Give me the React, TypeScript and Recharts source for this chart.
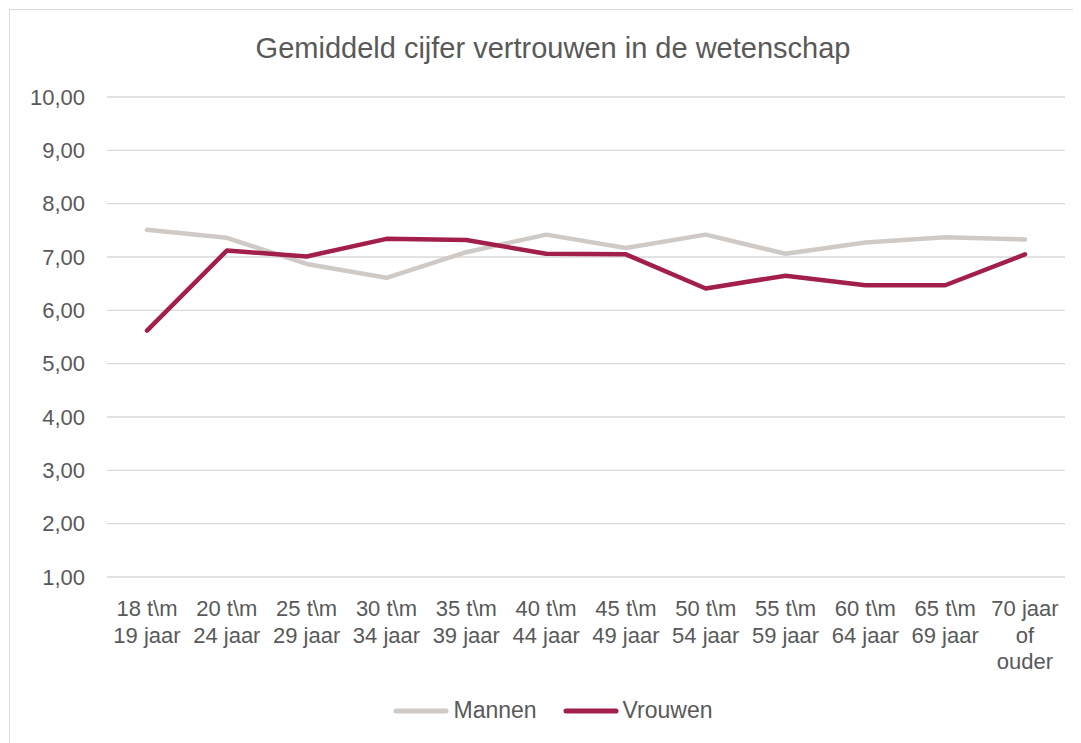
import React from "react";
import {
  CartesianGrid,
  Legend,
  Line,
  LineChart,
  XAxis,
  YAxis,
} from "recharts";

// values
const categories = [
  "18 t\\m 19 jaar",
  "20 t\\m 24 jaar",
  "25 t\\m 29 jaar",
  "30 t\\m 34 jaar",
  "35 t\\m 39 jaar",
  "40 t\\m 44 jaar",
  "45 t\\m 49 jaar",
  "50 t\\m 54 jaar",
  "55 t\\m 59 jaar",
  "60 t\\m 64 jaar",
  "65 t\\m 69 jaar",
  "70 jaar of ouder",
];
const mannen = [7.51, 7.36, 6.87, 6.61, 7.09, 7.42, 7.17, 7.42, 7.06, 7.27, 7.37, 7.33];
const vrouwen = [5.62, 7.12, 7.01, 7.34, 7.32, 7.06, 7.05, 6.41, 6.65, 6.47, 6.47, 7.05];
const yTicks = [1, 2, 3, 4, 5, 6, 7, 8, 9, 10];

const title = "Gemiddeld cijfer vertrouwen in de wetenschap";
const TEXT = "#595959";
const FONT = "'Liberation Sans', Arial, sans-serif";
const W = 1086;
const H = 758;

const data = categories.map((c, i) => ({
  name: c,
  Mannen: mannen[i],
  Vrouwen: vrouwen[i],
}));

// simple greedy wrap, like excel does inside one category band
const wrap = (s: string, max: number) => {
  const lines: string[] = [];
  let cur = "";
  s.split(" ").forEach((w) => {
    const next = cur ? cur + " " + w : w;
    if (next.length > max && cur) {
      lines.push(cur);
      cur = w;
    } else cur = next;
  });
  if (cur) lines.push(cur);
  return lines;
};

const XTick = (props: any) => {
  const { x, y, payload } = props;
  const lines = wrap(payload.value, 7);
  return (
    <text x={x} y={y} textAnchor="middle" fill={TEXT} fontSize={22} fontFamily={FONT}>
      {lines.map((l, i) => (
        <tspan key={i} x={x} dy={i === 0 ? 39 : 26.5}>
          {l}
        </tspan>
      ))}
    </text>
  );
};

const LegendBox = (props: any) => {
  const items = props.payload || [];
  return (
    <div style={{ display: "flex", justifyContent: "center", alignItems: "center", fontFamily: FONT, fontSize: 23, color: TEXT }}>
      {items.map((it: any, i: number) => (
        <div key={i} style={{ display: "flex", alignItems: "center", marginLeft: i ? 26 : 0 }}>
          <svg width={56} height={8} style={{ marginRight: 4 }}>
            <line x1={3} y1={4} x2={53} y2={4} stroke={it.color} strokeWidth={5} strokeLinecap="round" />
          </svg>
          <span>{it.value}</span>
        </div>
      ))}
    </div>
  );
};

export default function App() {
  return (
    <div style={{ width: 1072, height: 734, overflow: "hidden", margin: "1px 0 0 1px" }}>
      <div style={{ position: "relative", width: W, height: H, border: "1px solid #d9d9d9", background: "#fff" }}>
        <div
          style={{
            position: "absolute",
            top: 21,
            left: 0,
            width: W,
            textAlign: "center",
            fontFamily: FONT,
            fontSize: 29,
            lineHeight: "34px",
            color: TEXT,
          }}
        >
          {title}
        </div>
        <LineChart width={W} height={H} data={data} margin={{ top: 87, right: 31, left: 0, bottom: 41 }}>
          <CartesianGrid vertical={false} stroke="#d9d9d9" strokeWidth={1.3} />
          <XAxis
            dataKey="name"
            axisLine={false}
            tickLine={false}
            tickSize={0}
            tickMargin={0}
            interval={0}
            height={120}
            padding={{ left: 40, right: 40 }}
            tick={<XTick />}
          />
          <YAxis
            domain={[1, 10]}
            ticks={yTicks}
            width={97}
            axisLine={false}
            tickLine={false}
            tickSize={0}
            tickMargin={22}
            tick={{ fill: TEXT, fontSize: 22, fontFamily: FONT }}
            tickFormatter={(v: number) => v.toFixed(2).replace(".", ",")}
          />
          <Line
            type="linear"
            dataKey="Mannen"
            stroke="#d0cac6"
            strokeWidth={4.5}
            strokeLinecap="round"
            strokeLinejoin="round"
            dot={false}
            activeDot={false}
            isAnimationActive={false}
          />
          <Line
            type="linear"
            dataKey="Vrouwen"
            stroke="#a31f4b"
            strokeWidth={4.5}
            strokeLinecap="round"
            strokeLinejoin="round"
            dot={false}
            activeDot={false}
            isAnimationActive={false}
          />
          <Legend
            verticalAlign="bottom"
            height={30}
            wrapperStyle={{ left: 0, width: W }}
            content={<LegendBox />}
          />
        </LineChart>
      </div>
    </div>
  );
}
